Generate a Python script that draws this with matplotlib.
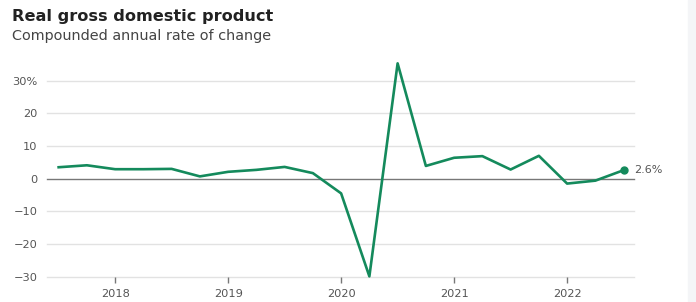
import numpy as np
import matplotlib.pyplot as plt
from matplotlib.patches import Rectangle

# Quarterly real GDP growth, 2017 Q3 - 2022 Q3
quarters = np.arange(2017.5, 2022.75, 0.25)
gdp_growth = [3.5, 4.1, 2.9, 2.9, 3.0, 0.7, 2.1, 2.7, 3.6, 1.7, -4.5, -29.9,
              35.3, 3.9, 6.4, 6.9, 2.8, 7.0, -1.5, -0.6, 2.6]
year_ticks = [2018, 2019, 2020, 2021, 2022]
y_ticks = [-30, -20, -10, 0, 10, 20, 30]
y_labels = ['\u221230', '\u221220', '\u221210', '0', '10', '20', '30%']

plt.rcParams['font.family'] = ['DejaVu Sans']

fig = plt.figure(figsize=(6.96, 3.02), dpi=100)
ax = fig.add_axes([47 / 696, 0.0838, (634 - 47) / 696, 0.714])

# light panel on the right edge
fig.patches.append(Rectangle((688 / 696, 0), 8 / 696, 1, transform=fig.transFigure,
                             color='#f4f5f7', zorder=0))

green = '#148a5c'
ax.plot(quarters, gdp_growth, color=green, lw=1.9, clip_on=False, zorder=3)
ax.plot(quarters[-1], gdp_growth[-1], 'o', color=green, ms=5, clip_on=False, zorder=4)
ax.text(quarters[-1] + 0.09, gdp_growth[-1], f'{gdp_growth[-1]}%', color='#555555',
        fontsize=8, va='center', ha='left')

ax.set_xlim(2017.397, 2022.592)
ax.set_ylim(-30, 36)
ax.set_yticks(y_ticks)
ax.set_yticklabels(y_labels)
ax.set_xticks(year_ticks)
ax.set_xticklabels([str(y) for y in year_ticks])

for y in y_ticks:
    if y == 0:
        ax.axhline(y, color='#777777', lw=1, zorder=2, clip_on=False)
    else:
        ax.axhline(y, color='#e2e2e2', lw=1, zorder=1, clip_on=False)

for s in ax.spines.values():
    s.set_visible(False)
ax.tick_params(axis='y', length=0, pad=7, labelsize=8.2, labelcolor='#555555')
ax.tick_params(axis='x', length=4, width=1, color='#777777', pad=5,
               labelsize=8.2, labelcolor='#555555')

fig.text(12 / 696, 1 - 16 / 302, 'Real gross domestic product', fontsize=11.6,
         fontweight='bold', color='#222222', va='center')
fig.text(12 / 696, 1 - 36 / 302, 'Compounded annual rate of change', fontsize=10.4,
         color='#444444', va='center')

fig.savefig('out.png', dpi=100)
